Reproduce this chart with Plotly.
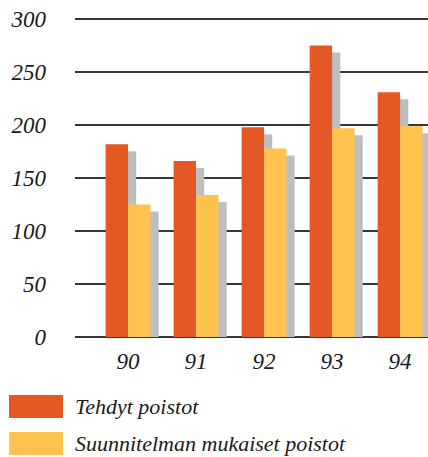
import numpy as np
import plotly.graph_objects as go

# data
years = ["90", "91", "92", "93", "94"]
tehdyt = [182, 166, 198, 275, 231]
suunnitelman = [125, 134, 178, 197, 199]
y_ticks = [0, 50, 100, 150, 200, 250, 300]

COLORS = {
    "orange": "#E45826",
    "yellow": "#FEC24F",
    "shadow": "#BDBEC1",
    "grid": "#363636",
    "text": "#1a1a1a",
}
FONT = "Liberation Serif, Times New Roman, serif"

x = np.arange(len(years))
bar_w = 0.33
shadow_dx = 0.12
shadow_drop = 6.6

fig = go.Figure()

# shadows first so they sit behind the bars
for vals, off in [(tehdyt, -bar_w), (suunnitelman, 0)]:
    fig.add_trace(go.Bar(
        x=x, y=np.array(vals) - shadow_drop,
        offset=off + shadow_dx, width=bar_w,
        marker=dict(color=COLORS["shadow"], line=dict(width=0)),
        showlegend=False, hoverinfo="skip",
    ))

fig.add_trace(go.Bar(
    x=x, y=tehdyt, name="Tehdyt poistot",
    offset=-bar_w, width=bar_w,
    marker=dict(color=COLORS["orange"], line=dict(width=0)),
    showlegend=False,
))
fig.add_trace(go.Bar(
    x=x, y=suunnitelman, name="Suunnitelman mukaiset poistot",
    offset=0, width=bar_w,
    marker=dict(color=COLORS["yellow"], line=dict(width=0)),
    showlegend=False,
))

# legend drawn by hand: big swatches + italic labels
legend_items = [("Tehdyt poistot", COLORS["orange"], -0.181),
                ("Suunnitelman mukaiset poistot", COLORS["yellow"], -0.297)]
for label, col, top in legend_items:
    fig.add_shape(type="rect", xref="paper", yref="paper",
                  x0=-0.187, x1=-0.034, y0=top - 0.072, y1=top,
                  fillcolor=col, line=dict(width=0))
    fig.add_annotation(text=label, xref="paper", yref="paper",
                       x=-0.006, y=top - 0.036, xanchor="left", yanchor="middle",
                       showarrow=False,
                       font=dict(family=FONT, size=22, style="italic", color=COLORS["text"]))

fig.update_layout(
    width=428, height=457,
    margin=dict(l=75, r=0, t=17, b=120),
    plot_bgcolor="white", paper_bgcolor="white",
    barmode="overlay",
    xaxis=dict(
        range=[-0.78, 4.41],
        tickvals=x, ticktext=years,
        showgrid=False, zeroline=False, showline=False, ticks="",
        ticklabelstandoff=8,
        tickfont=dict(family=FONT, size=23, style="italic", color=COLORS["text"]),
    ),
    yaxis=dict(
        range=[0, 302],
        tickvals=y_ticks,
        showgrid=True, gridcolor=COLORS["grid"], gridwidth=1.5,
        zeroline=True, zerolinecolor=COLORS["grid"], zerolinewidth=1.5,
        showline=False, ticks="",
        ticklabelstandoff=28,
        tickfont=dict(family=FONT, size=23, style="italic", color=COLORS["text"]),
    ),
)

fig.write_html("out.html", config={"displayModeBar": False},
               post_script="document.body.style.margin='0';")
